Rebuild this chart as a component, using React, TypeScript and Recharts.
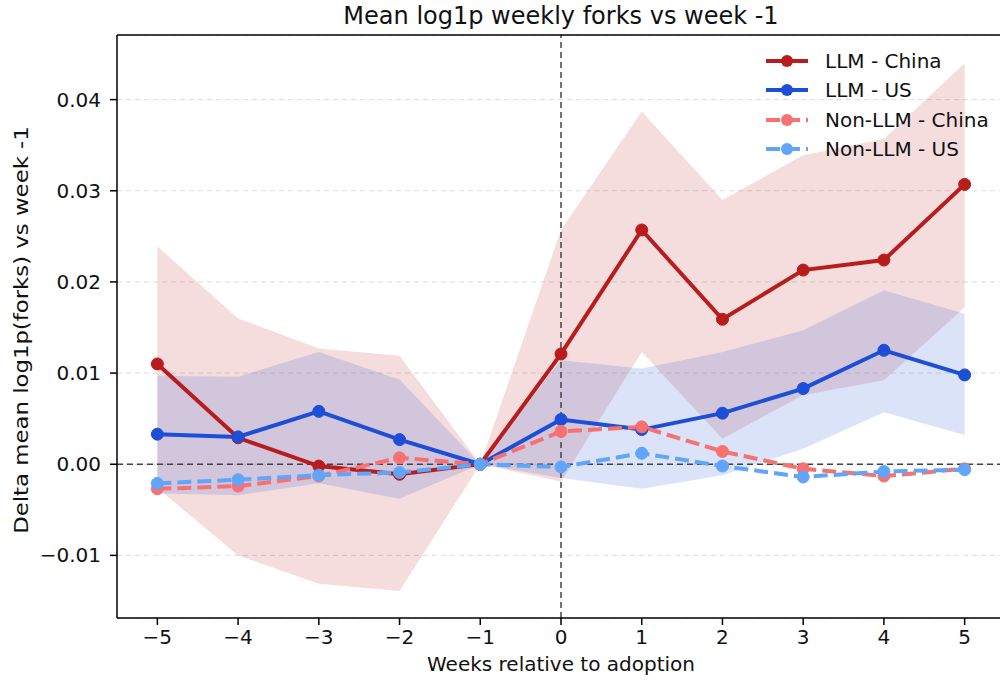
import { Area, CartesianGrid, ComposedChart, Line, ReferenceLine, XAxis, YAxis } from "recharts"

const WEEKS = [-5, -4, -3, -2, -1, 0, 1, 2, 3, 4, 5]
const Y_TICKS = [-0.01, 0, 0.01, 0.02, 0.03, 0.04]
const X_MIN = -5.5
const X_MAX = 5.5
const Y_MIN = -0.01687
const Y_MAX = 0.04709

const llmChina = [0.011, 0.0029, -0.0002, -0.0011, 0, 0.0121, 0.0257, 0.0159, 0.0213, 0.0224, 0.0307]
const llmChinaLo = [-0.0026, -0.01, -0.0131, -0.0139, 0, -0.0019, 0.0123, 0.0028, 0.0076, 0.0092, 0.0172]
const llmChinaHi = [0.0239, 0.016, 0.0127, 0.0119, 0, 0.0257, 0.0387, 0.029, 0.0339, 0.0357, 0.044]

const llmUs = [0.0033, 0.003, 0.0058, 0.0027, 0, 0.0049, 0.0038, 0.0056, 0.0083, 0.0125, 0.0098]
const llmUsLo = [-0.0032, -0.0034, -0.0021, -0.0038, 0, -0.0015, -0.0027, -0.0012, 0.0017, 0.0057, 0.0032]
const llmUsHi = [0.0097, 0.0096, 0.0123, 0.0093, 0, 0.0114, 0.0105, 0.0123, 0.0147, 0.0191, 0.0165]

const nonLlmChina = [-0.0027, -0.0024, -0.0013, 0.0007, 0, 0.0036, 0.0041, 0.0014, -0.0005, -0.0013, -0.0005]
const nonLlmUs = [-0.0021, -0.0017, -0.0012, -0.0009, 0, -0.0003, 0.0012, -0.0002, -0.0014, -0.0008, -0.0006]

const RED = "#b91c1c"
const BLUE = "#1d4ed8"
const SALMON = "#f87171"
const SKY = "#60a5fa"
const FONT = "'DejaVu Sans', sans-serif"

const SERIES = [
  { key: "llmChina", name: "LLM - China", color: RED, dashed: false },
  { key: "llmUs", name: "LLM - US", color: BLUE, dashed: false },
  { key: "nonLlmChina", name: "Non-LLM - China", color: SALMON, dashed: true },
  { key: "nonLlmUs", name: "Non-LLM - US", color: SKY, dashed: true },
]

const data = WEEKS.map((w, i) => ({
  week: w,
  llmChina: llmChina[i],
  llmUs: llmUs[i],
  nonLlmChina: nonLlmChina[i],
  nonLlmUs: nonLlmUs[i],
  chinaBand: [llmChinaLo[i], llmChinaHi[i]],
  usBand: [llmUsLo[i], llmUsHi[i]],
}))

const minus = (s: string) => s.replace("-", "\u2212")

export default function App() {
  const tick = { fontSize: 20, fill: "#111", fontFamily: FONT }
  const axisLine = { stroke: "#000", strokeWidth: 1.5 }
  const tickLine = { stroke: "#000", strokeWidth: 1.5 }
  return (
    <div style={{ position: "fixed", left: 0, top: 0, width: 1000, height: 683, overflow: "hidden", background: "#fff", fontFamily: FONT }}>
      <ComposedChart width={1010} height={683} data={data} margin={{ top: 35, right: 5, bottom: 35, left: 57 }}>
        <CartesianGrid vertical={false} stroke="#dcdcdc" strokeDasharray="5 4" />
        <XAxis
          dataKey="week"
          type="number"
          domain={[X_MIN, X_MAX]}
          ticks={WEEKS}
          allowDataOverflow
          height={30}
          tick={tick}
          tickSize={7}
          tickMargin={5}
          axisLine={axisLine}
          tickLine={tickLine}
          tickFormatter={(v: number) => minus(String(v))}
        />
        <YAxis
          type="number"
          domain={[Y_MIN, Y_MAX]}
          ticks={Y_TICKS}
          allowDataOverflow
          width={60}
          tick={tick}
          tickSize={7}
          tickMargin={9}
          axisLine={axisLine}
          tickLine={tickLine}
          tickFormatter={(v: number) => minus(v.toFixed(2))}
        />
        <Area dataKey="chinaBand" type="linear" stroke="none" fill={RED} fillOpacity={0.15} isAnimationActive={false} />
        <Area dataKey="usBand" type="linear" stroke="none" fill={BLUE} fillOpacity={0.16} isAnimationActive={false} />
        <ReferenceLine y={0} stroke="#444" strokeWidth={1.5} strokeDasharray="6 4" />
        <ReferenceLine x={0} stroke="#444" strokeWidth={1.5} strokeDasharray="6 4" />
        <ReferenceLine y={Y_MAX} stroke="#000" strokeWidth={1.5} />
        <ReferenceLine x={X_MAX} stroke="#000" strokeWidth={1.5} />
        {SERIES.map(s => (
          <Line
            key={s.key}
            dataKey={s.key}
            type="linear"
            stroke={s.color}
            strokeWidth={4}
            strokeDasharray={s.dashed ? "14 6" : undefined}
            dot={{ r: 6, fill: s.color, stroke: s.color, strokeWidth: 1, strokeDasharray: "" }}
            isAnimationActive={false}
          />
        ))}
      </ComposedChart>

      <div style={{ position: "absolute", left: 561, top: 2, transform: "translateX(-50%)", fontSize: 24, whiteSpace: "nowrap", color: "#111" }}>
        Mean log1p weekly forks vs week -1
      </div>
      <div style={{ position: "absolute", left: 561, top: 652, transform: "translateX(-50%)", fontSize: 20, whiteSpace: "nowrap", color: "#111" }}>
        Weeks relative to adoption
      </div>
      <div style={{ position: "absolute", left: 21, top: 330, transform: "translate(-50%, -50%) rotate(-90deg) scale(1.14, 1)", fontSize: 20, whiteSpace: "nowrap", color: "#111" }}>
        Delta mean log1p(forks) vs week -1
      </div>

      <div style={{ position: "absolute", left: 764, top: 46 }}>
        {SERIES.map(s => (
          <div key={s.key} style={{ display: "flex", alignItems: "center", height: 29.5 }}>
            <svg width={46} height={14} style={{ marginRight: 15 }}>
              <line x1={2} y1={7} x2={44} y2={7} stroke={s.color} strokeWidth={4} strokeDasharray={s.dashed ? "14 6" : undefined} />
              <circle cx={23} cy={7} r={6} fill={s.color} />
            </svg>
            <span style={{ fontSize: 20, color: "#111", whiteSpace: "nowrap" }}>{s.name}</span>
          </div>
        ))}
      </div>
    </div>
  )
}
